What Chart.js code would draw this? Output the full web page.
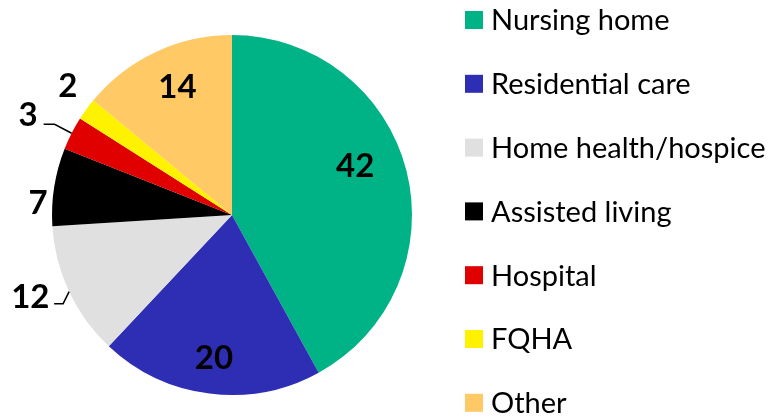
<!DOCTYPE html>
<html>
<head>
<meta charset="utf-8">
<script src="https://cdn.jsdelivr.net/npm/chart.js@4"></script>
<style>
  html, body { margin: 0; padding: 0; background: #fff; }
  #wrap { width: 775px; height: 419px; position: relative; }
</style>
</head>
<body>
<div id="wrap"><canvas id="chart1"></canvas></div>
<script>
// data
var categories = ['Nursing home', 'Residential care', 'Home health/hospice', 'Assisted living', 'Hospital', 'FQHA', 'Other'];
var values = [42, 20, 12, 7, 3, 2, 14];
var colors = ['#00B386', '#2E2EB4', '#E0E0E0', '#000000', '#E00000', '#FFF200', '#FFC966'];

// label placement: radius factor, angle nudge (deg), leader line elbow
var labelPlace = [
    { r: 0.735, da: -7 },
    { r: 0.80, da: 0 },
    { r: 1.21, da: 3, leader: [-6, 12, -9] },
    { r: 1.08, da: -5.5 },
    { r: 1.26, da: -1, leader: [-17, -9, -11] },
    { r: 1.16, da: 2.2 },
    { r: 0.77, da: 2 }
];

var FONT = 'Lato, "Open Sans", sans-serif';

var piePlugin = {
    id: 'pieExtras',
    afterDatasetsDraw: function (chart) {
        var ctx = chart.ctx;
        var arcs = chart.getDatasetMeta(0).data;
        ctx.save();
        arcs.forEach(function (arc, i) {
            var p = arc.getProps(['x', 'y', 'startAngle', 'endAngle', 'outerRadius'], true);
            var mid = (p.startAngle + p.endAngle) / 2;
            var cfg = labelPlace[i];
            var a = mid + cfg.da * Math.PI / 180;
            var lx = p.x + Math.cos(a) * p.outerRadius * cfg.r;
            var ly = p.y + Math.sin(a) * p.outerRadius * cfg.r;

            if (cfg.leader) {
                var ex = p.x + Math.cos(mid) * p.outerRadius;
                var ey = p.y + Math.sin(mid) * p.outerRadius;
                ctx.beginPath();
                ctx.moveTo(ex, ey);
                ctx.lineTo(ex + cfg.leader[0], ey + cfg.leader[1]);
                ctx.lineTo(ex + cfg.leader[0] + cfg.leader[2], ey + cfg.leader[1]);
                ctx.strokeStyle = '#000';
                ctx.lineWidth = 1.5;
                ctx.stroke();
            }

            ctx.font = 'bold 33px ' + FONT;
            ctx.fillStyle = '#000';
            ctx.textAlign = 'center';
            ctx.textBaseline = 'middle';
            ctx.fillText(String(values[i]), lx, ly);
        });

        // legend on the right
        ctx.textAlign = 'left';
        ctx.textBaseline = 'middle';
        ctx.font = '29px ' + FONT;
        categories.forEach(function (name, i) {
            var y = 20 + i * 63.8;
            ctx.fillStyle = colors[i];
            ctx.fillRect(465, y - 9, 18, 18);
            ctx.fillStyle = '#000';
            ctx.fillText(name, 491, y + 1);
        });
        ctx.restore();
    }
};

var ctx1 = document.getElementById('chart1').getContext('2d');
var chart1 = new Chart(ctx1, {
    type: 'pie',
    data: {
        labels: categories,
        datasets: [{
            data: values,
            backgroundColor: colors,
            borderWidth: 0
        }]
    },
    options: {
        responsive: true,
        maintainAspectRatio: false,
        animation: false,
        layout: { padding: { left: 52, right: 363, top: 35, bottom: 24 } },
        plugins: {
            legend: { display: false },
            tooltip: { enabled: false }
        }
    },
    plugins: [piePlugin]
});
</script>
</body>
</html>
